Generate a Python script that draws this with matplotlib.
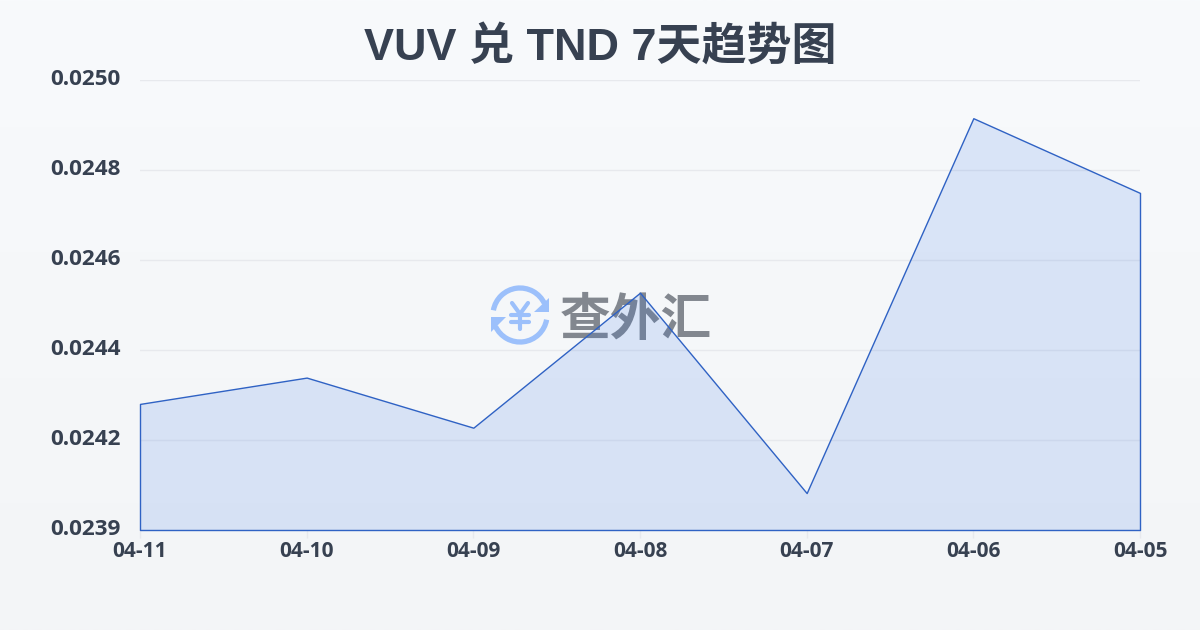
# plot.py - VUV / TND 7 day trend, area chart with watermark
import numpy as np
import matplotlib
matplotlib.use("Agg")
import matplotlib.pyplot as plt
from matplotlib.patches import Arc, Polygon

plt.rcParams["font.family"] = ["Open Sans", "Noto Sans CJK SC", "DejaVu Sans"]

# ── Data ──────────────────────────────────────────────────────────────────────
TITLE = "VUV 兑 TND 7天趋势图"
dates = ["04-11", "04-10", "04-09", "04-08", "04-07", "04-06", "04-05"]
rates = [0.024237, 0.024299, 0.024181, 0.024499, 0.024027, 0.024910, 0.024734]
y_min = 0.02394
y_max = 0.0250
n_y_ticks = 6

# ── Colours ───────────────────────────────────────────────────────────────────
TEXT = "#374151"
GRID = "#e7e9ed"
LINE = "#2f62c4"
LOGO = "#9cc0fb"
MARK = "#82878f"

W, H = 1200, 630
fig = plt.figure(figsize=(W / 100, H / 100), dpi=100)

# ── Background layer in pixel coordinates (gradient + watermark) ──────────────
bg = fig.add_axes([0, 0, 1, 1], zorder=0)
bg.set_xlim(0, W)
bg.set_ylim(H, 0)
bg.axis("off")
grad = np.linspace(0, 1, 256).reshape(-1, 1, 1)
top = np.array([0xf8, 0xfa, 0xfc]) / 255
bot = np.array([0xf3, 0xf5, 0xf7]) / 255
bg.imshow(top + (bot - top) * grad, extent=[0, W, H, 0], aspect="auto")

# logo: two arcs with arrow heads and a yen sign
cx, cy, r = 520, 315, 27
bg.add_patch(Arc((cx, cy), 2 * r, 2 * r, theta1=190, theta2=335, color=LOGO, lw=3.8))
bg.add_patch(Arc((cx, cy), 2 * r, 2 * r, theta1=10, theta2=155, color=LOGO, lw=3.8))
bg.add_patch(Polygon([(534, 312), (549, 298), (549, 312)], color=LOGO, lw=0))
bg.add_patch(Polygon([(491, 317), (506, 317), (491, 332)], color=LOGO, lw=0))
for xs, ys in [([512, 520, 528], [303, 314, 303]), ([520, 520], [314, 329]),
               ([511, 529], [315, 315]), ([511, 529], [322, 322])]:
    bg.plot(xs, ys, color=LOGO, lw=3, solid_capstyle="round", solid_joinstyle="round")
bg.text(636, 320, "查外汇", color=MARK, fontsize=36.5, fontweight="bold",
        ha="center", va="center", family=["Noto Sans CJK SC", "DejaVu Sans"])

# ── Chart ─────────────────────────────────────────────────────────────────────
ax = fig.add_axes([140 / W, 1 - 530 / H, 1000 / W, 450 / H], zorder=1)
ax.patch.set_alpha(0)
x = np.arange(len(dates))

ax.set_xlim(0, len(dates) - 1)
ax.set_ylim(y_min, y_max)
y_ticks = np.linspace(y_min, y_max, n_y_ticks)
ax.set_yticks(y_ticks)
ax.set_yticklabels([f"{v:.4f}" for v in y_ticks])
ax.set_xticks(x)
ax.set_xticklabels(dates)
ax.grid(True, axis="y", color=GRID, lw=1)
ax.set_axisbelow(True)
for s in ax.spines.values():
    s.set_visible(False)

ax.fill_between(x, rates, y_min, facecolor=(0.16, 0.42, 0.90, 0.14),
                edgecolor=LINE, lw=1, clip_on=False, zorder=3)

ax.tick_params(axis="y", length=0, pad=14, labelcolor=TEXT)
ax.tick_params(axis="x", length=6, width=1, color=GRID, pad=2, labelcolor=TEXT)
for lab in ax.get_yticklabels():
    lab.set_fontsize(16.2)
    lab.set_fontweight("bold")
    lab.set_verticalalignment("center")
for lab in ax.get_xticklabels():
    lab.set_fontsize(15)
    lab.set_fontweight("bold")

fig.text(600 / W, 1 - 47 / H, TITLE, color=TEXT, fontsize=32.4, fontweight="bold",
         ha="center", va="center", family=["Liberation Sans", "Noto Sans CJK SC"])

fig.savefig("out.png", dpi=100)
